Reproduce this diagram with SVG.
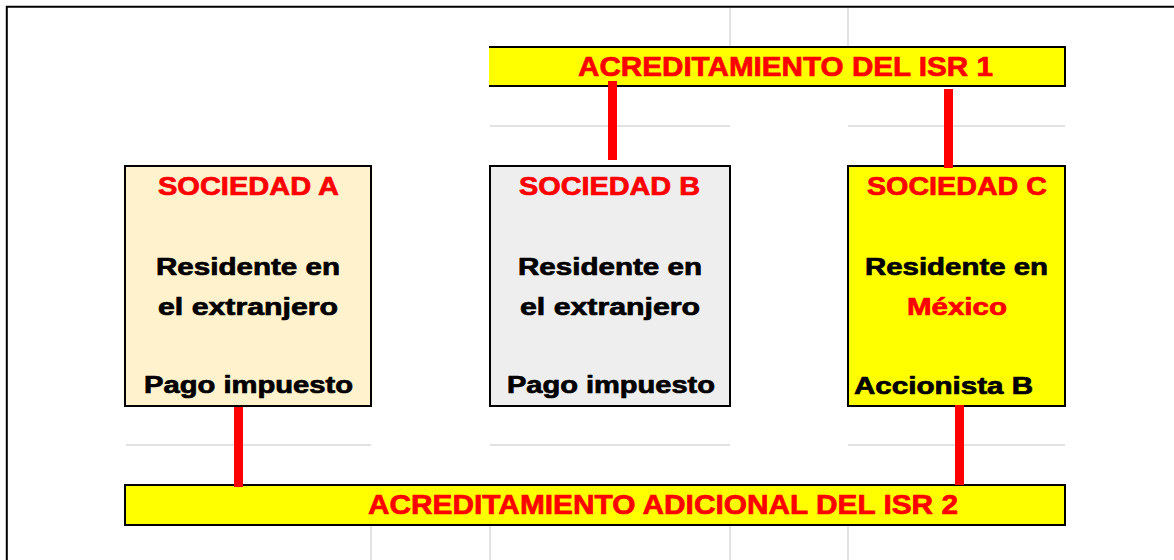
<svg xmlns="http://www.w3.org/2000/svg" width="1174" height="560" viewBox="0 0 1174 560">
<style>
.grid{stroke:#d9d9d9;stroke-width:1.5;fill:none}
.box{stroke:#000;stroke-width:2}
.conn{stroke:#ff0000;stroke-width:9;fill:none}
.t{font-family:"Liberation Sans",Arial,sans-serif;font-weight:bold;text-anchor:middle;stroke-width:0.7;stroke-linejoin:round}
.red{fill:#ff0000;stroke:#ff0000}
.blk{fill:#000;stroke:#000}
.title{font-size:25px}
.body{font-size:23px}
.bar{font-size:27px}
</style>
<rect width="1174" height="560" fill="#fff"/>
<g id="grid">
<path class="grid" d="M730 8V47M848 8V47M490 126H730M848 126H1065M126 445H371M490 445H730M848 445H1065M371 525V560M490 525V560M730 525V560M848 525V560"/>
</g>
<path d="M6.8 560V6.8H1174" fill="none" stroke="#000" stroke-width="2"/>
<g id="isr1">
<rect x="489" y="47" width="576" height="39" fill="#ffff00"/>
<path d="M489 47H1065V86H489" fill="none" stroke="#000" stroke-width="2"/>
<text class="t bar red" x="785.5" y="76" textLength="415" lengthAdjust="spacingAndGlyphs">ACREDITAMIENTO DEL ISR 1</text>
</g>
<g id="isr2">
<rect class="box" x="125" y="485" width="940" height="40" fill="#ffff00"/>
<text class="t bar red" x="663" y="514" textLength="590" lengthAdjust="spacingAndGlyphs">ACREDITAMIENTO ADICIONAL DEL ISR 2</text>
</g>
<g id="sociedadA">
<rect class="box" x="125" y="166" width="246" height="240" fill="#fff2cc"/>
<text class="t title red" x="248.5" y="195" textLength="181" lengthAdjust="spacingAndGlyphs">SOCIEDAD A</text>
<text class="t body blk" x="248" y="275" textLength="184" lengthAdjust="spacingAndGlyphs">Residente en</text>
<text class="t body blk" x="248" y="315" textLength="180" lengthAdjust="spacingAndGlyphs">el extranjero</text>
<text class="t body blk" x="248.5" y="393" textLength="209" lengthAdjust="spacingAndGlyphs">Pago impuesto</text>
</g>
<g id="sociedadB">
<rect class="box" x="490" y="166" width="240" height="240" fill="#eeeeee"/>
<text class="t title red" x="609.5" y="195" textLength="181" lengthAdjust="spacingAndGlyphs">SOCIEDAD B</text>
<text class="t body blk" x="610" y="275" textLength="184" lengthAdjust="spacingAndGlyphs">Residente en</text>
<text class="t body blk" x="610" y="315" textLength="180" lengthAdjust="spacingAndGlyphs">el extranjero</text>
<text class="t body blk" x="611" y="393" textLength="208" lengthAdjust="spacingAndGlyphs">Pago impuesto</text>
</g>
<g id="sociedadC">
<rect class="box" x="848" y="166" width="217" height="240" fill="#ffff00"/>
<text class="t title red" x="957" y="195" textLength="180" lengthAdjust="spacingAndGlyphs">SOCIEDAD C</text>
<text class="t body blk" x="956.5" y="275" textLength="183" lengthAdjust="spacingAndGlyphs">Residente en</text>
<text class="t body red" x="957" y="315" textLength="100" lengthAdjust="spacingAndGlyphs">México</text>
<text class="t body blk" x="943.5" y="394" textLength="179" lengthAdjust="spacingAndGlyphs">Accionista B</text>
</g>
<g id="connectors">
<path class="conn" d="M612.5 81V160M948.5 89V168M238.5 407V487M959.5 405V485"/>
</g>
</svg>
